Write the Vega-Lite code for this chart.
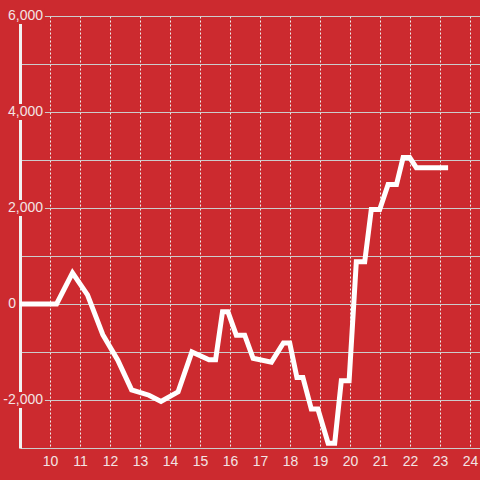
{
  "$schema": "https://vega.github.io/schema/vega-lite/v6.json",
  "autosize": "none",
  "width": 460,
  "height": 432,
  "padding": {"left": 20, "top": 16, "right": 0, "bottom": 32},
  "background": "#cc2a2f",
  "config": {
    "view": {"stroke": null},
    "font": "Liberation Sans",
    "axisX": {
      "domain": false, "ticks": false, "grid": true,
      "gridColor": "#eeeeee", "gridDash": [2, 2], "gridWidth": 1,
      "labelOverlap": false, "labelBound": false, "labelFlush": false,
      "labelColor": "#f3e4e4", "labelFontSize": 14, "labelPadding": 6, "labelFont": "Liberation Sans",
      "title": null
    },
    "axisY": {
      "labels": false, "ticks": false, "grid": true,
      "gridColor": "#cccccc", "gridWidth": 1,
      "domain": true, "domainColor": "#f2f2f2", "domainWidth": 3, "title": null
    }
  },
  "datasets": {
    "series": [
      {"h": 9.0, "v": 0}, {"h": 10.22, "v": 0}, {"h": 10.75, "v": 650}, {"h": 11.25, "v": 190},
      {"h": 11.76, "v": -640}, {"h": 12.26, "v": -1170}, {"h": 12.72, "v": -1790}, {"h": 13.3, "v": -1900},
      {"h": 13.7, "v": -2030}, {"h": 14.27, "v": -1830}, {"h": 14.73, "v": -1000}, {"h": 15.3, "v": -1160},
      {"h": 15.52, "v": -1160}, {"h": 15.75, "v": -160}, {"h": 15.93, "v": -160}, {"h": 16.21, "v": -650},
      {"h": 16.49, "v": -650}, {"h": 16.77, "v": -1130}, {"h": 17.38, "v": -1210}, {"h": 17.78, "v": -810},
      {"h": 17.99, "v": -810}, {"h": 18.23, "v": -1530}, {"h": 18.43, "v": -1530}, {"h": 18.71, "v": -2190},
      {"h": 18.93, "v": -2190}, {"h": 19.27, "v": -2900}, {"h": 19.49, "v": -2900}, {"h": 19.71, "v": -1600},
      {"h": 19.97, "v": -1600}, {"h": 20.21, "v": 880}, {"h": 20.49, "v": 880}, {"h": 20.71, "v": 1970},
      {"h": 20.99, "v": 1970}, {"h": 21.27, "v": 2490}, {"h": 21.55, "v": 2490}, {"h": 21.77, "v": 3050},
      {"h": 21.99, "v": 3050}, {"h": 22.21, "v": 2840}, {"h": 23.27, "v": 2840}
    ],
    "ylabels": [
      {"v": 6000, "label": "6,000"}, {"v": 4000, "label": "4,000"}, {"v": 2000, "label": "2,000"},
      {"v": 0, "label": "0"}, {"v": -2000, "label": "-2,000"}
    ]
  },
  "encoding": {
    "x": {"type": "quantitative",
      "scale": {"domain": [9, 24.333], "nice": false, "zero": false},
      "axis": {"values": [10, 11, 12, 13, 14, 15, 16, 17, 18, 19, 20, 21, 22, 23, 24], "labelOverlap": false, "labelFontSize": 14}},
    "y": {"type": "quantitative",
      "scale": {"domain": [-3000, 6000], "nice": false, "zero": false},
      "axis": {"values": [-3000, -2000, -1000, 0, 1000, 2000, 3000, 4000, 5000, 6000]}}
  },
  "layer": [
    {
      "data": {"name": "ylabels"},
      "transform": [{"filter": "datum.v != 0"}],
      "mark": {"type": "rule", "color": "#cc2a2f", "strokeWidth": 16, "strokeCap": "butt"},
      "encoding": {
        "x": {"datum": 8.9, "type": "quantitative"},
        "x2": {"datum": 9.83},
        "y": {"field": "v", "type": "quantitative"}
      }
    },
    {
      "data": {"name": "ylabels"},
      "transform": [{"filter": "datum.v != 0"}],
      "mark": {"type": "text", "align": "right", "baseline": "middle", "dx": 23, "fontSize": 14, "color": "#f3e4e4", "font": "Liberation Sans"},
      "encoding": {
        "x": {"datum": 9, "type": "quantitative"},
        "y": {"field": "v", "type": "quantitative"},
        "text": {"field": "label"}
      }
    },
    {
      "data": {"name": "ylabels"},
      "transform": [{"filter": "datum.v == 0"}],
      "mark": {"type": "text", "align": "right", "baseline": "middle", "dx": -4, "fontSize": 14, "color": "#f3e4e4", "font": "Liberation Sans"},
      "encoding": {
        "x": {"datum": 9, "type": "quantitative"},
        "y": {"field": "v", "type": "quantitative"},
        "text": {"field": "label"}
      }
    },
    {
      "mark": {"type": "rule", "color": "#f5f5f5", "strokeWidth": 3},
      "encoding": {"x": null, "y": {"datum": 0, "type": "quantitative"}}
    },
    {
      "data": {"name": "series"},
      "mark": {"type": "line", "color": "#ffffff", "strokeWidth": 5},
      "encoding": {
        "x": {"field": "h", "type": "quantitative"},
        "y": {"field": "v", "type": "quantitative"}
      }
    }
  ]
}
